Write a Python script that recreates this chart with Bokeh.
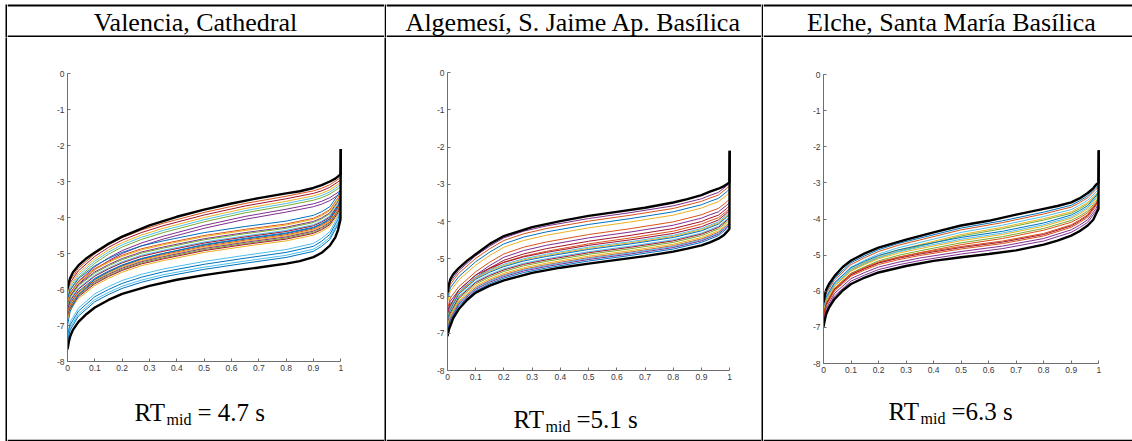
from bokeh.plotting import figure
from bokeh.layouts import row, column
from bokeh.models import Range1d, FixedTicker
from bokeh.embed import file_html
from bokeh.resources import INLINE
from bokeh.core.properties import value

# ---------------- texts ----------------
TITLES = ["Valencia, Cathedral", "Algemesí, S. Jaime Ap. Basílica", "Elche, Santa María Basílica"]
RT_MAIN = "RT"
RT_SUB = "mid"
RT_VALUES = ["= 4.7 s", "=5.1 s", "=6.3 s"]

# ---------------- axes ----------------
X_TICKS = [0, 0.1, 0.2, 0.3, 0.4, 0.5, 0.6, 0.7, 0.8, 0.9, 1]
Y_TICKS = [-8, -7, -6, -5, -4, -3, -2, -1, 0]

# sample positions of the coloured curves
X_GRID = [0.0, 0.01, 0.04, 0.1, 0.15, 0.2, 0.27, 0.35, 0.5, 0.65, 0.8, 0.9, 0.93, 0.96, 0.99, 0.999]
# sample positions of the two black envelope curves (they end with a jump at x = 1)
X_BLACK = [0.0, 0.005, 0.01, 0.02, 0.04, 0.07, 0.1, 0.15, 0.2, 0.3, 0.4, 0.5,
           0.6, 0.7, 0.8, 0.85, 0.9, 0.93, 0.96, 0.98, 0.99, 0.999, 1.0]

BLUE = "#0072BD"; RED = "#D95319"; YELLOW = "#EDB120"; PURPLE = "#7E2F8E"
GREEN = "#77AC30"; LIGHTBLUE = "#4DBEEE"; DARKRED = "#A2142F"

# ---------------- Valencia ----------------
VAL_BLACK_UPPER = [-5.97, -5.80, -5.68, -5.52, -5.33, -5.13, -4.97, -4.73, -4.53, -4.22, -3.98, -3.78,
                   -3.61, -3.46, -3.33, -3.27, -3.18, -3.10, -3.00, -2.92, -2.86, -2.80, -2.10]
VAL_BLACK_LOWER = [-7.66, -7.45, -7.30, -7.12, -6.90, -6.68, -6.50, -6.29, -6.12, -5.90, -5.73, -5.60,
                   -5.49, -5.39, -5.28, -5.21, -5.10, -4.98, -4.78, -4.55, -4.35, -4.05, -2.10]
VAL_CURVES = [
    [-6.01, -5.74, -5.41, -5.01, -4.76, -4.56, -4.35, -4.16, -3.86, -3.61, -3.41, -3.26, -3.19, -3.09, -2.94, -2.89],
    [-6.08, -5.81, -5.48, -5.08, -4.83, -4.63, -4.42, -4.23, -3.93, -3.68, -3.48, -3.33, -3.26, -3.16, -3.01, -2.96],
    [-6.15, -5.88, -5.55, -5.15, -4.90, -4.70, -4.49, -4.30, -4.00, -3.75, -3.55, -3.40, -3.33, -3.23, -3.08, -3.03],
    [-6.21, -5.94, -5.61, -5.21, -4.96, -4.76, -4.55, -4.36, -4.06, -3.81, -3.61, -3.46, -3.39, -3.29, -3.14, -3.09],
    [-6.27, -6.00, -5.67, -5.27, -5.02, -4.82, -4.61, -4.42, -4.12, -3.87, -3.67, -3.52, -3.45, -3.35, -3.20, -3.15],
    [-6.37, -6.10, -5.77, -5.37, -5.12, -4.92, -4.71, -4.52, -4.22, -3.97, -3.77, -3.62, -3.55, -3.45, -3.30, -3.25],
    [-6.45, -6.18, -5.85, -5.45, -5.20, -5.00, -4.79, -4.60, -4.30, -4.05, -3.85, -3.70, -3.63, -3.53, -3.38, -3.33],
    [-6.27, -6.02, -5.70, -5.34, -5.14, -4.97, -4.79, -4.65, -4.42, -4.25, -4.10, -3.94, -3.84, -3.70, -3.37, -3.22],
    [-6.35, -6.10, -5.78, -5.42, -5.22, -5.05, -4.87, -4.73, -4.50, -4.33, -4.18, -4.02, -3.92, -3.78, -3.45, -3.30],
    [-6.38, -6.13, -5.81, -5.45, -5.25, -5.08, -4.90, -4.76, -4.53, -4.36, -4.21, -4.05, -3.95, -3.81, -3.48, -3.33],
    [-6.44, -6.19, -5.87, -5.51, -5.31, -5.14, -4.96, -4.82, -4.59, -4.42, -4.27, -4.11, -4.01, -3.87, -3.54, -3.39],
    [-6.47, -6.22, -5.90, -5.54, -5.34, -5.17, -4.99, -4.85, -4.62, -4.45, -4.30, -4.14, -4.04, -3.90, -3.57, -3.42],
    [-6.53, -6.28, -5.96, -5.60, -5.40, -5.23, -5.05, -4.91, -4.68, -4.51, -4.36, -4.20, -4.10, -3.96, -3.63, -3.48],
    [-6.56, -6.31, -5.99, -5.63, -5.43, -5.26, -5.08, -4.94, -4.71, -4.54, -4.39, -4.23, -4.13, -3.99, -3.66, -3.51],
    [-6.62, -6.37, -6.05, -5.69, -5.49, -5.32, -5.14, -5.00, -4.77, -4.60, -4.45, -4.29, -4.19, -4.05, -3.72, -3.57],
    [-6.65, -6.40, -6.08, -5.72, -5.52, -5.35, -5.17, -5.03, -4.80, -4.63, -4.48, -4.32, -4.22, -4.08, -3.75, -3.60],
    [-6.68, -6.43, -6.11, -5.75, -5.55, -5.38, -5.20, -5.06, -4.83, -4.66, -4.51, -4.35, -4.25, -4.11, -3.78, -3.63],
    [-6.71, -6.46, -6.14, -5.78, -5.58, -5.41, -5.23, -5.09, -4.86, -4.69, -4.54, -4.38, -4.28, -4.14, -3.81, -3.66],
    [-6.74, -6.49, -6.17, -5.81, -5.61, -5.44, -5.26, -5.12, -4.89, -4.72, -4.57, -4.41, -4.31, -4.17, -3.84, -3.69],
    [-6.77, -6.52, -6.20, -5.84, -5.64, -5.47, -5.29, -5.15, -4.92, -4.75, -4.60, -4.44, -4.34, -4.20, -3.87, -3.72],
    [-6.82, -6.57, -6.25, -5.89, -5.69, -5.52, -5.34, -5.20, -4.97, -4.80, -4.65, -4.49, -4.39, -4.25, -3.92, -3.77],
    [-7.00, -6.60, -6.15, -5.72, -5.51, -5.33, -5.15, -5.00, -4.75, -4.58, -4.43, -4.27, -4.17, -4.03, -3.70, -3.55],
    [-7.22, -6.90, -6.52, -6.12, -5.92, -5.75, -5.58, -5.43, -5.22, -5.05, -4.89, -4.72, -4.58, -4.39, -3.97, -3.77],
    [-7.30, -6.98, -6.60, -6.20, -6.00, -5.83, -5.66, -5.51, -5.30, -5.13, -4.97, -4.80, -4.66, -4.47, -4.05, -3.85],
    [-7.38, -7.06, -6.68, -6.28, -6.08, -5.91, -5.74, -5.59, -5.38, -5.21, -5.05, -4.88, -4.74, -4.55, -4.13, -3.93],
    [-7.44, -7.12, -6.74, -6.34, -6.14, -5.97, -5.80, -5.65, -5.44, -5.27, -5.11, -4.94, -4.80, -4.61, -4.19, -3.99],
]
VAL_COLORS = [RED, DARKRED, YELLOW, LIGHTBLUE, GREEN, PURPLE, PURPLE,
              BLUE, RED, YELLOW, PURPLE, GREEN, LIGHTBLUE, DARKRED, BLUE, RED, YELLOW,
              PURPLE, GREEN, DARKRED, YELLOW, BLUE,
              LIGHTBLUE, BLUE, LIGHTBLUE, BLUE]

# ---------------- Algemesí ----------------
ALG_BLACK_UPPER = [-5.91, -5.70, -5.55, -5.42, -5.25, -5.05, -4.88, -4.60, -4.39, -4.15, -3.99, -3.85,
                   -3.74, -3.63, -3.49, -3.40, -3.29, -3.20, -3.12, -3.05, -3.00, -2.95, -2.10]
ALG_BLACK_LOWER = [-7.08, -6.90, -6.80, -6.60, -6.35, -6.10, -5.91, -5.72, -5.58, -5.38, -5.24, -5.13,
                   -5.03, -4.93, -4.81, -4.73, -4.64, -4.56, -4.46, -4.36, -4.28, -4.20, -2.10]
ALG_CURVES = [
    [-5.92, -5.62, -5.32, -4.92, -4.66, -4.44, -4.26, -4.12, -3.92, -3.76, -3.58, -3.39, -3.30, -3.22, -3.04, -2.97],
    [-5.99, -5.69, -5.39, -4.99, -4.73, -4.51, -4.33, -4.19, -3.99, -3.83, -3.65, -3.46, -3.37, -3.29, -3.11, -3.04],
    [-6.08, -5.78, -5.48, -5.08, -4.82, -4.60, -4.42, -4.28, -4.08, -3.92, -3.74, -3.55, -3.46, -3.38, -3.20, -3.13],
    [-6.17, -5.87, -5.57, -5.17, -4.91, -4.69, -4.51, -4.37, -4.17, -4.01, -3.83, -3.64, -3.55, -3.47, -3.29, -3.22],
    [-6.35, -6.05, -5.75, -5.35, -5.09, -4.87, -4.69, -4.55, -4.35, -4.19, -4.01, -3.82, -3.73, -3.65, -3.47, -3.40],
    [-6.44, -6.14, -5.84, -5.44, -5.18, -4.96, -4.78, -4.64, -4.44, -4.28, -4.10, -3.91, -3.82, -3.74, -3.56, -3.49],
    [-6.53, -6.23, -5.90, -5.50, -5.25, -5.04, -4.87, -4.73, -4.53, -4.37, -4.19, -4.00, -3.91, -3.83, -3.65, -3.58],
    [-6.58, -6.28, -5.92, -5.52, -5.29, -5.09, -4.93, -4.80, -4.60, -4.44, -4.26, -4.07, -3.98, -3.90, -3.72, -3.65],
    [-6.54, -6.26, -5.84, -5.44, -5.25, -5.10, -4.95, -4.83, -4.64, -4.49, -4.32, -4.14, -4.05, -3.96, -3.77, -3.70],
    [-6.59, -6.31, -5.89, -5.49, -5.30, -5.15, -5.00, -4.88, -4.69, -4.54, -4.37, -4.19, -4.10, -4.01, -3.82, -3.75],
    [-6.62, -6.34, -5.92, -5.52, -5.33, -5.18, -5.03, -4.91, -4.72, -4.57, -4.40, -4.22, -4.13, -4.04, -3.85, -3.78],
    [-6.65, -6.37, -5.95, -5.55, -5.36, -5.21, -5.06, -4.94, -4.75, -4.60, -4.43, -4.25, -4.16, -4.07, -3.88, -3.81],
    [-6.71, -6.43, -6.01, -5.61, -5.42, -5.27, -5.12, -5.00, -4.81, -4.66, -4.49, -4.31, -4.22, -4.13, -3.94, -3.87],
    [-6.74, -6.46, -6.04, -5.64, -5.45, -5.30, -5.15, -5.03, -4.84, -4.69, -4.52, -4.34, -4.25, -4.16, -3.97, -3.90],
    [-6.78, -6.50, -6.08, -5.68, -5.49, -5.34, -5.19, -5.07, -4.88, -4.73, -4.56, -4.38, -4.29, -4.20, -4.01, -3.94],
    [-6.83, -6.55, -6.13, -5.73, -5.54, -5.39, -5.24, -5.12, -4.93, -4.78, -4.61, -4.43, -4.34, -4.25, -4.06, -3.99],
    [-6.87, -6.59, -6.17, -5.77, -5.58, -5.43, -5.28, -5.16, -4.97, -4.82, -4.65, -4.47, -4.38, -4.29, -4.10, -4.03],
    [-6.89, -6.61, -6.19, -5.79, -5.60, -5.45, -5.30, -5.18, -4.99, -4.84, -4.67, -4.49, -4.40, -4.31, -4.12, -4.05],
    [-6.92, -6.64, -6.22, -5.82, -5.63, -5.48, -5.33, -5.21, -5.02, -4.87, -4.70, -4.52, -4.43, -4.34, -4.15, -4.08],
    [-6.96, -6.68, -6.26, -5.86, -5.67, -5.52, -5.37, -5.25, -5.06, -4.91, -4.74, -4.56, -4.47, -4.38, -4.19, -4.12],
]
ALG_COLORS = [PURPLE, RED, BLUE, YELLOW, RED, PURPLE, DARKRED, RED, DARKRED, LIGHTBLUE,
              YELLOW, BLUE, LIGHTBLUE, DARKRED, GREEN, YELLOW, RED, LIGHTBLUE, PURPLE, BLUE]

# ---------------- Elche ----------------
ELC_BLACK_UPPER = [-6.31, -6.10, -5.95, -5.80, -5.58, -5.33, -5.15, -4.95, -4.79, -4.57, -4.37, -4.18,
                   -4.05, -3.88, -3.72, -3.64, -3.54, -3.43, -3.28, -3.15, -3.05, -3.00, -2.10]
ELC_BLACK_LOWER = [-6.98, -6.78, -6.63, -6.45, -6.22, -5.98, -5.80, -5.62, -5.48, -5.30, -5.16, -5.06,
                   -4.97, -4.87, -4.71, -4.60, -4.46, -4.34, -4.18, -4.02, -3.86, -3.72, -2.10]
ELC_CURVES = [
    [-6.37, -6.01, -5.64, -5.21, -5.02, -4.85, -4.68, -4.53, -4.25, -4.05, -3.81, -3.62, -3.50, -3.36, -3.13, -3.07],
    [-6.42, -6.06, -5.69, -5.26, -5.07, -4.90, -4.73, -4.58, -4.30, -4.10, -3.86, -3.67, -3.55, -3.41, -3.18, -3.12],
    [-6.49, -6.13, -5.76, -5.33, -5.14, -4.97, -4.80, -4.65, -4.37, -4.17, -3.93, -3.74, -3.62, -3.48, -3.25, -3.19],
    [-6.55, -6.19, -5.82, -5.39, -5.20, -5.03, -4.86, -4.71, -4.43, -4.23, -3.99, -3.80, -3.68, -3.54, -3.31, -3.25],
    [-6.59, -6.23, -5.86, -5.43, -5.24, -5.07, -4.90, -4.75, -4.47, -4.27, -4.03, -3.84, -3.72, -3.58, -3.35, -3.29],
    [-6.51, -6.16, -5.77, -5.35, -5.17, -5.01, -4.86, -4.73, -4.51, -4.34, -4.11, -3.89, -3.77, -3.63, -3.36, -3.26],
    [-6.56, -6.21, -5.82, -5.40, -5.22, -5.06, -4.91, -4.78, -4.56, -4.39, -4.16, -3.94, -3.82, -3.68, -3.41, -3.31],
    [-6.60, -6.25, -5.86, -5.44, -5.26, -5.10, -4.95, -4.82, -4.60, -4.43, -4.20, -3.98, -3.86, -3.72, -3.45, -3.35],
    [-6.66, -6.31, -5.92, -5.50, -5.32, -5.16, -5.01, -4.88, -4.66, -4.49, -4.26, -4.04, -3.92, -3.78, -3.51, -3.41],
    [-6.71, -6.36, -5.97, -5.55, -5.37, -5.21, -5.06, -4.93, -4.71, -4.54, -4.31, -4.09, -3.97, -3.83, -3.56, -3.46],
    [-6.68, -6.33, -5.92, -5.51, -5.34, -5.19, -5.06, -4.94, -4.76, -4.61, -4.40, -4.16, -4.03, -3.88, -3.57, -3.44],
    [-6.71, -6.36, -5.95, -5.54, -5.37, -5.22, -5.09, -4.97, -4.79, -4.64, -4.43, -4.19, -4.06, -3.91, -3.60, -3.47],
    [-6.75, -6.40, -5.99, -5.58, -5.41, -5.26, -5.13, -5.01, -4.83, -4.68, -4.47, -4.23, -4.10, -3.95, -3.64, -3.51],
    [-6.82, -6.47, -6.06, -5.65, -5.48, -5.33, -5.20, -5.08, -4.90, -4.75, -4.54, -4.30, -4.17, -4.02, -3.71, -3.58],
    [-6.89, -6.54, -6.13, -5.72, -5.55, -5.40, -5.27, -5.15, -4.97, -4.82, -4.61, -4.37, -4.24, -4.09, -3.78, -3.65],
]
ELC_COLORS = [BLUE, RED, LIGHTBLUE, YELLOW, GREEN, BLUE, LIGHTBLUE, YELLOW, GREEN, RED,
              RED, DARKRED, RED, PURPLE, PURPLE]

# ---------------- layout constants (pixels) ----------------
PAD_TOP = 4          # white space above the table
PAD_LEFT = 5         # white space left of the table
LINE = 2             # table rule thickness
COL_W = [377, 375, 369]
HEAD_H = PAD_TOP + LINE + 29 + LINE      # header strip incl. its rules
BODY_PLOT_H = 350
FOOTER_H = 54                            # incl. the bottom rule
FRAME = [  # left, right, top, bottom borders of each axes box
    (60, 41, 36, 26),
    (61, 29, 35, 17),
    (60, 31, 37, 24),
]
TITLE_X = [188, 187, 188]
TITLE_MID = 15.5          # from bottom of header strip
TITLE_SIZE = "26px"
RT_X = [127, 127, 125]
RT_MID = [27, 20, 28]     # from the bottom rule of the footer strip
AXIS_COLOR = "#6e6e6e"
LABEL_COLOR = "#3a3a3a"


def panel(w, h, bg="white", border="white", bottom=0):
    t = figure(width=w, height=h, x_range=Range1d(0, w), y_range=Range1d(0, h - bottom),
               toolbar_location=None, output_backend="svg", title_location=None,
               min_border=0, min_border_left=0, min_border_right=0,
               min_border_top=0, min_border_bottom=bottom,
               x_axis_location=None, y_axis_location=None, outline_line_color=None,
               background_fill_color=bg, border_fill_color=border)
    t.grid.visible = False
    return t


def bar(w, h, color="black"):
    return panel(w, h, bg=color, border=color)


def rule(p, left, right, bottom, top):
    p.quad(left=[left], right=[right], bottom=[bottom], top=[top],
           fill_color="black", line_color=None)


def header(i):
    w = COL_W[i]
    t = panel(w, HEAD_H)
    rule(t, 0, w, HEAD_H - PAD_TOP - LINE, HEAD_H - PAD_TOP)
    rule(t, 0, w, 0, LINE)
    t.text(x=[TITLE_X[i]], y=[TITLE_MID], text=[TITLES[i]],
           text_font=value("Liberation Serif"), text_font_size=TITLE_SIZE,
           text_align="center", text_baseline="middle", text_color="black")
    return t


def head_rule(w):
    t = panel(w, HEAD_H)
    rule(t, w - LINE, w, 0, HEAD_H - PAD_TOP)
    return t


def footer(i):
    # white cell whose 2 px bottom border is the table's bottom rule
    t = panel(COL_W[i], FOOTER_H, bg="white", border="black", bottom=LINE)
    x0 = RT_X[i]
    y0 = RT_MID[i]
    t.text(x=[x0], y=[y0], text=[RT_MAIN], text_font=value("Liberation Serif"),
           text_font_size="25px", text_align="left", text_baseline="middle",
           text_color="black")
    t.text(x=[x0 + 32], y=[y0 - 7], text=[RT_SUB], text_font=value("Liberation Serif"),
           text_font_size="16px", text_align="left", text_baseline="middle",
           text_color="black")
    t.text(x=[x0 + 32 + 25 + 6], y=[y0], text=[RT_VALUES[i]],
           text_font=value("Liberation Serif"), text_font_size="25px",
           text_align="left", text_baseline="middle", text_color="black")
    return t


def curve_panel(i, upper, lower, curves, colors):
    left, right, top, bottom = FRAME[i]
    p = figure(width=COL_W[i], height=BODY_PLOT_H, x_range=Range1d(0, 1.01),
               y_range=Range1d(-8, 0), min_border_left=left, min_border_right=right,
               min_border_top=top, min_border_bottom=bottom, toolbar_location=None,
               title_location=None, output_backend="svg", outline_line_color=None,
               background_fill_color="white", border_fill_color="white")
    p.grid.visible = False
    for ys, c in zip(curves, colors):
        p.line(X_GRID, ys, line_color=c, line_width=1.0)
    for ys in (upper, lower):
        p.line(X_BLACK, ys, line_color="black", line_width=2.4)
    p.xaxis.ticker = FixedTicker(ticks=X_TICKS)
    p.xaxis.bounds = (0, 1)
    p.xaxis.major_label_overrides = {t: str(t) for t in X_TICKS}
    p.yaxis.ticker = FixedTicker(ticks=Y_TICKS)
    p.yaxis.major_label_overrides = {t: str(t) for t in Y_TICKS}
    for ax in p.axis:
        ax.axis_line_color = AXIS_COLOR
        ax.axis_line_width = 1
        ax.major_tick_line_color = AXIS_COLOR
        ax.minor_tick_line_color = None
        ax.major_tick_in = 3
        ax.major_tick_out = 0
        ax.major_label_text_font = "Liberation Sans"
        ax.major_label_text_font_size = "8.5px"
        ax.major_label_text_color = LABEL_COLOR
        ax.major_label_standoff = 3
    return p


def solo(item):
    # wrap a figure on its own so that no frame alignment is applied between siblings
    return column(item, spacing=0)


data = [
    (VAL_BLACK_UPPER, VAL_BLACK_LOWER, VAL_CURVES, VAL_COLORS),
    (ALG_BLACK_UPPER, ALG_BLACK_LOWER, ALG_CURVES, ALG_COLORS),
    (ELC_BLACK_UPPER, ELC_BLACK_LOWER, ELC_CURVES, ELC_COLORS),
]

header_items = [solo(head_rule(PAD_LEFT + LINE))]
body_items = [solo(bar(PAD_LEFT, BODY_PLOT_H + FOOTER_H, "white")),
              solo(bar(LINE, BODY_PLOT_H + FOOTER_H))]
for i in range(3):
    header_items.append(solo(header(i)))
    body_items.append(column(solo(curve_panel(i, *data[i])), solo(footer(i)), spacing=0))
    if i < 2:
        header_items.append(solo(head_rule(LINE)))
        body_items.append(solo(bar(LINE, BODY_PLOT_H + FOOTER_H)))

layout = column(
    row(*header_items, spacing=0),
    row(*body_items, spacing=0),
    spacing=0,
)

open("out.html", "w").write(file_html(layout, INLINE))
